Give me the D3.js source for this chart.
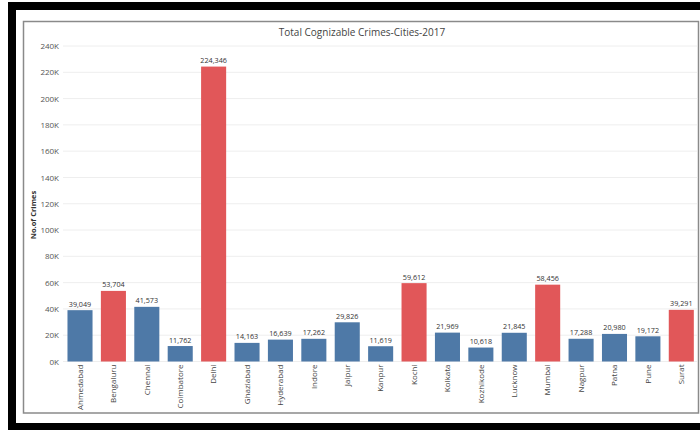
<!DOCTYPE html>
<html>
<head>
<meta charset="utf-8">
<script src="https://cdn.jsdelivr.net/npm/d3@7"></script>
<style>
  html, body { margin: 0; padding: 0; background: #fff; }
  svg { display: block; font-family: "Open Sans", "DejaVu Sans", sans-serif; }
</style>
</head>
<body>
<svg id="chart" width="700" height="431"></svg>
<script>
const cities = ["Ahmedabad","Bengaluru","Chennai","Coimbatore","Delhi","Ghaziabad","Hyderabad","Indore","Jaipur","Kanpur","Kochi","Kolkata","Kozhikode","Lucknow","Mumbai","Nagpur","Patna","Pune","Surat"];
const crimes = [39049,53704,41573,11762,224346,14163,16639,17262,29826,11619,59612,21969,10618,21845,58456,17288,20980,19172,39291];
const highlighted = ["Bengaluru","Delhi","Kochi","Mumbai","Surat"];
const yTicks = [0,20000,40000,60000,80000,100000,120000,140000,160000,180000,200000,220000,240000];
const title = "Total Cognizable Crimes-Cities-2017";
const yTitle = "No.of Crimes";

const svg = d3.select("#chart");

// outer black frame (screenshot border)
svg.append("rect").attr("x", 8).attr("y", 2).attr("width", 700).attr("height", 428).attr("fill", "#000");
svg.append("rect").attr("x", 16).attr("y", 10).attr("width", 700).attr("height", 413).attr("fill", "#fff");
// inner gray frame
svg.append("rect").attr("x", 23.5).attr("y", 21.5).attr("width", 675).attr("height", 391.5)
  .attr("fill", "#fff").attr("stroke", "#8a8a8a").attr("stroke-width", 1.5);

const x = d3.scaleBand().domain(cities).range([63.3, 698]).paddingInner(0.25).paddingOuter(0.125);
const y = d3.scaleLinear().domain([0, 240000]).range([361.5, 46]);

// gridlines
svg.append("g").selectAll("line").data(yTicks).join("line")
  .attr("x1", 63).attr("x2", 697)
  .attr("y1", d => y(d)).attr("y2", d => y(d))
  .attr("stroke", "#eeeeee").attr("stroke-width", 1);

// y axis labels
const yAxis = d3.axisLeft(y).tickValues(yTicks).tickSize(0).tickPadding(0)
  .tickFormat(d => (d / 1000) + "K");
const ya = svg.append("g").attr("transform", "translate(59,0)").call(yAxis);
ya.select(".domain").remove();
ya.selectAll("text").attr("font-size", 8).attr("fill", "#555").attr("font-family", "Open Sans, DejaVu Sans, sans-serif");

svg.append("text").attr("transform", "translate(36,215) rotate(-90)")
  .attr("text-anchor", "middle").attr("font-size", 7.5).attr("font-weight", "bold").attr("fill", "#333")
  .text(yTitle);

// bars
svg.append("g").selectAll("rect").data(cities).join("rect")
  .attr("x", d => x(d)).attr("width", x.bandwidth())
  .attr("y", (d, i) => y(crimes[i])).attr("height", (d, i) => y(0) - y(crimes[i]))
  .attr("fill", d => highlighted.includes(d) ? "#e15759" : "#4e79a7");

// value labels
svg.append("g").selectAll("text").data(cities).join("text")
  .attr("x", d => x(d) + x.bandwidth() / 2)
  .attr("y", (d, i) => y(crimes[i]) - 3.5)
  .attr("text-anchor", "middle").attr("font-size", 7.2).attr("fill", "#333")
  .text((d, i) => d3.format(",")(crimes[i]));

// x axis labels
const xAxis = d3.axisBottom(x).tickSize(0).tickPadding(0);
const xa = svg.append("g").attr("transform", "translate(0,361.5)").call(xAxis);
xa.select(".domain").remove();
xa.selectAll("text")
  .attr("transform", "rotate(-90)")
  .attr("text-anchor", "end").attr("x", -3).attr("y", 0).attr("dy", "0.35em")
  .attr("font-size", 8).attr("fill", "#444").attr("font-family", "Open Sans, DejaVu Sans, sans-serif");

// title
svg.append("text").attr("x", 362).attr("y", 36).attr("text-anchor", "middle")
  .attr("font-size", 10).attr("fill", "#444").text(title);
</script>
</body>
</html>
